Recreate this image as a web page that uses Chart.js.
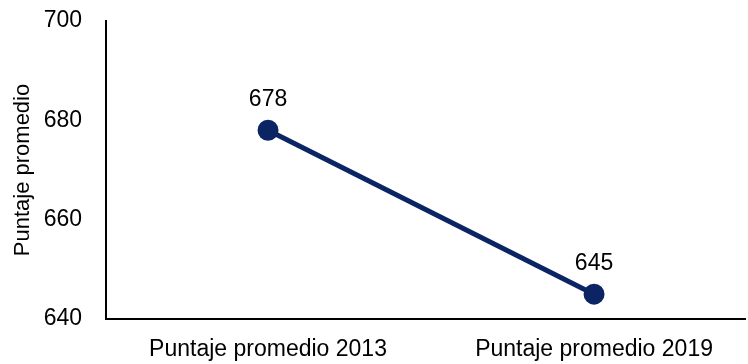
<!DOCTYPE html>
<html>
<head>
<meta charset="utf-8">
<script src="https://cdn.jsdelivr.net/npm/chart.js@4.4.1/dist/chart.umd.min.js"></script>
<style>
  html, body { margin: 0; padding: 0; background: #fff; overflow: hidden; }
  #wrap { width: 748px; height: 364px; }
</style>
</head>
<body>
<div id="wrap"><canvas id="chart"></canvas></div>
<script>
const categories = ['Puntaje promedio 2013', 'Puntaje promedio 2019'];
const scores = [678, 645];
const yTicks = [640, 660, 680, 700];

const navy = '#0b2463';
const font = { family: "'Liberation Sans', Arial, sans-serif", size: 23 };

// draws the value above every point
const valueLabels = {
  id: 'valueLabels',
  afterDatasetsDraw(chart) {
    const ctx = chart.ctx;
    const meta = chart.getDatasetMeta(0);
    ctx.save();
    ctx.fillStyle = '#000';
    ctx.font = `${font.size}px ${font.family}`;
    ctx.textAlign = 'center';
    ctx.textBaseline = 'alphabetic';
    meta.data.forEach((pt, i) => {
      ctx.fillText(String(scores[i]), pt.x, pt.y - 24);
    });
    ctx.restore();
  }
};

new Chart(document.getElementById('chart'), {
  type: 'line',
  data: {
    datasets: [{
      data: scores.map((v, i) => ({ x: i, y: v })),
      borderColor: navy,
      backgroundColor: navy,
      borderWidth: 5,
      pointRadius: 8,
      pointHoverRadius: 8,
      tension: 0,
      clip: false
    }]
  },
  options: {
    responsive: true,
    maintainAspectRatio: false,
    animation: false,
    layout: { autoPadding: false, padding: { top: 0, right: 3, bottom: 0, left: 0 } },
    plugins: { legend: { display: false }, tooltip: { enabled: false } },
    scales: {
      x: {
        type: 'linear',
        min: -0.497,
        max: 1.463,
        afterBuildTicks: axis => { axis.ticks = categories.map((c, i) => ({ value: i })); },
        afterFit: axis => { axis.paddingLeft = 0; axis.paddingRight = 0; axis.height = 45; },
        ticks: {
          callback: (v) => categories[v],
          color: '#000',
          font: font,
          padding: 17,
          maxRotation: 0,
          autoSkip: false
        },
        grid: { display: false, drawTicks: false },
        border: { display: true, color: '#000', width: 2 }
      },
      y: {
        min: 640,
        max: 700,
        afterBuildTicks: axis => { axis.ticks = yTicks.map(v => ({ value: v })); },
        afterFit: axis => { axis.width = 106; axis.paddingTop = 21; axis.paddingBottom = 0; },
        ticks: { color: '#000', font: font, padding: 24 },
        grid: { display: false, drawTicks: false },
        border: { display: true, color: '#000', width: 2 },
        title: {
          display: true,
          text: 'Puntaje promedio',
          color: '#000',
          font: { family: font.family, size: 22 },
          padding: { top: 10, bottom: 6 }
        }
      }
    }
  },
  plugins: [valueLabels]
});
</script>
</body>
</html>
